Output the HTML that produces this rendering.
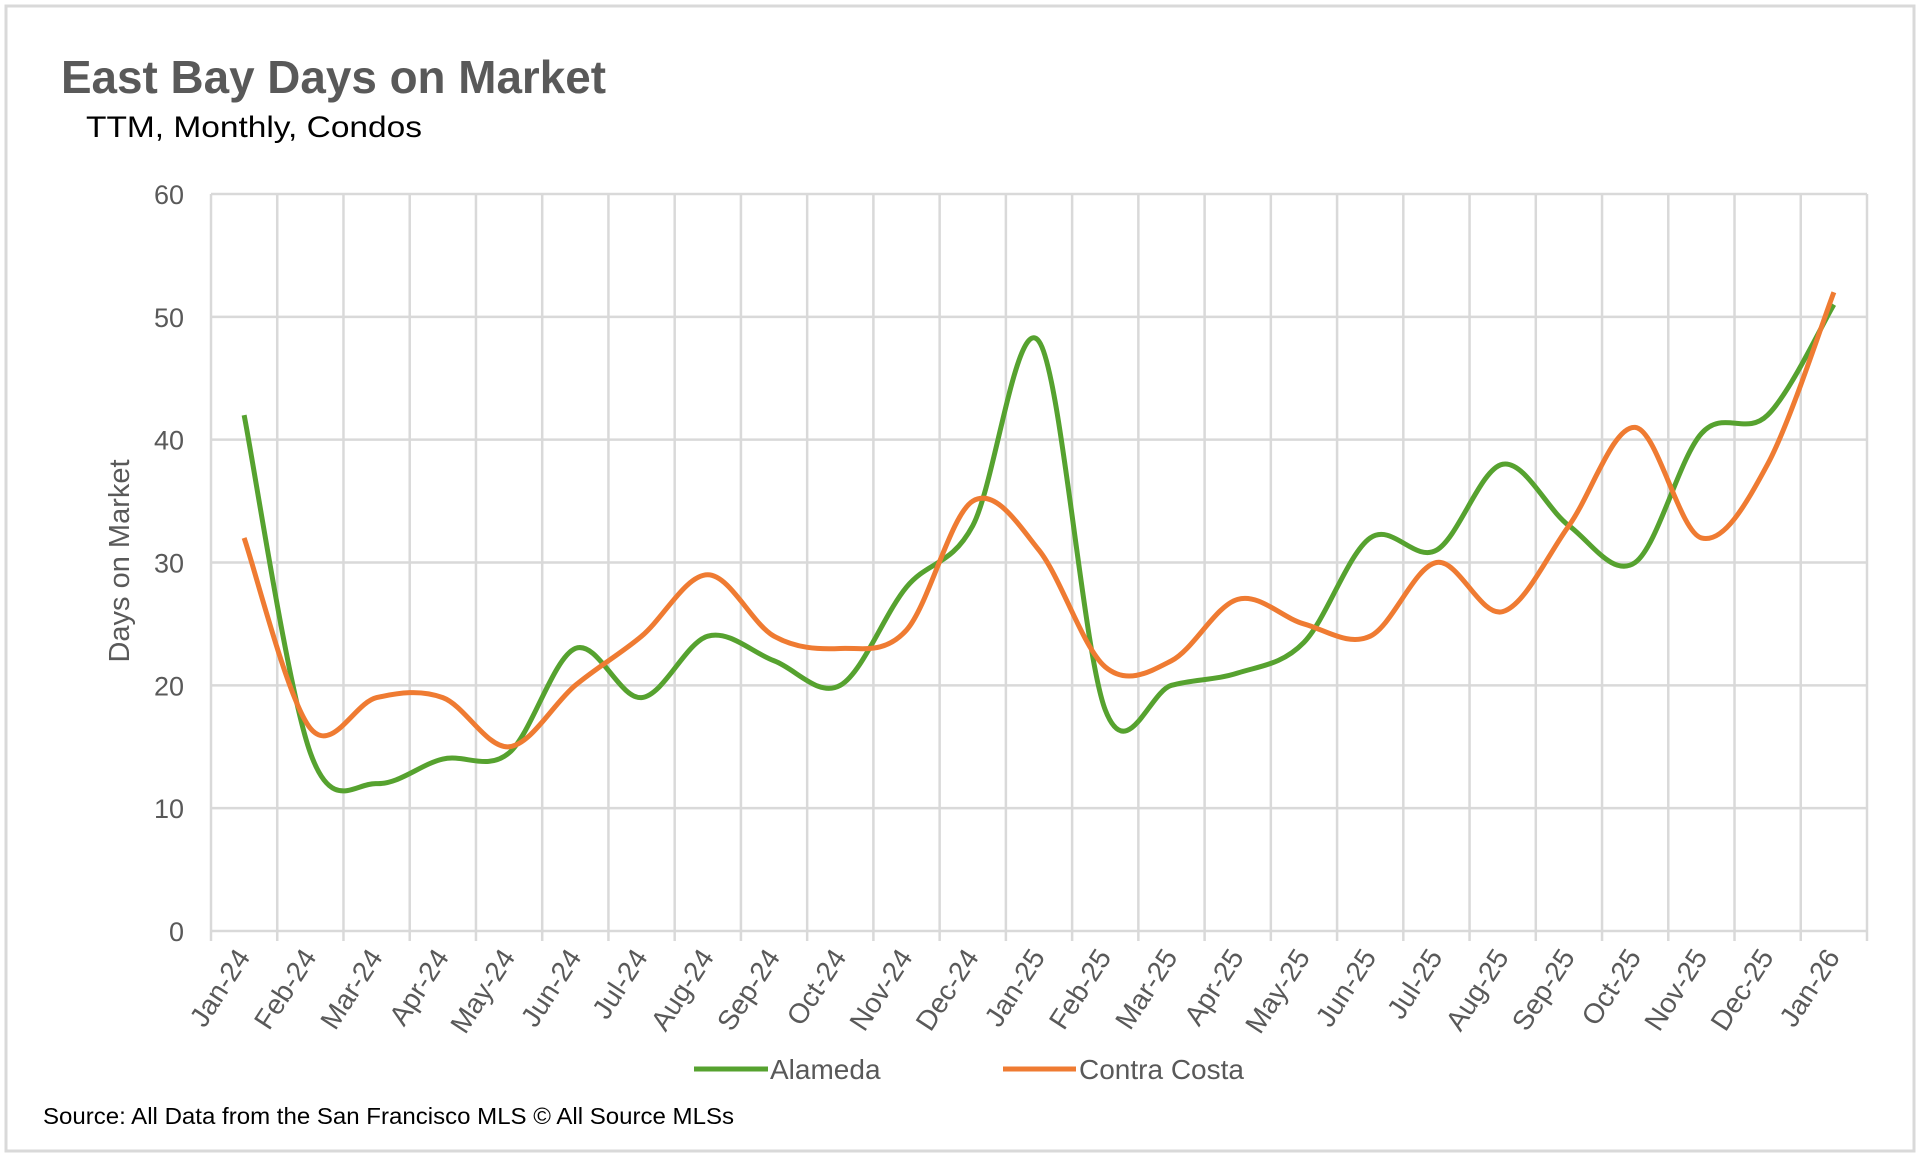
<!DOCTYPE html>
<html><head><meta charset="utf-8"><style>
html,body{margin:0;padding:0;background:#fff;}
svg{display:block;font-family:"Liberation Sans",sans-serif;}
</style></head><body>
<svg id="chart" width="1920" height="1156" viewBox="0 0 1920 1156" xmlns="http://www.w3.org/2000/svg">
<rect x="6" y="6" width="1908" height="1145" fill="#fff" stroke="#d9d9d9" stroke-width="3"/>
<text x="61" y="93" font-size="46" font-weight="bold" fill="#595959" textLength="545" lengthAdjust="spacingAndGlyphs">East Bay Days on Market</text>
<text x="86" y="137" font-size="30" fill="#000" textLength="336" lengthAdjust="spacingAndGlyphs">TTM, Monthly, Condos</text>
<g id="grid"></g>
<g id="ylabels"></g>
<g id="xlabels"></g>
<g id="series"></g>
<text transform="translate(129,561) rotate(-90)" text-anchor="middle" font-size="29" fill="#595959">Days on Market</text>
<g>
<line x1="694" y1="1069" x2="768" y2="1069" stroke="#56a22f" stroke-width="5"/>
<text x="770" y="1079" font-size="28" fill="#595959">Alameda</text>
<line x1="1003" y1="1069" x2="1076" y2="1069" stroke="#ef7b32" stroke-width="5"/>
<text x="1079" y="1079" font-size="28" fill="#595959">Contra Costa</text>
</g>
<text x="43" y="1124" font-size="23" fill="#000" textLength="691" lengthAdjust="spacingAndGlyphs">Source: All Data from the San Francisco MLS © All Source MLSs</text>
</svg>
<script>
const categories = ["Jan-24","Feb-24","Mar-24","Apr-24","May-24","Jun-24","Jul-24","Aug-24","Sep-24","Oct-24","Nov-24","Dec-24","Jan-25","Feb-25","Mar-25","Apr-25","May-25","Jun-25","Jul-25","Aug-25","Sep-25","Oct-25","Nov-25","Dec-25","Jan-26"];
const alameda = [42,14.5,12,14,14.5,23,19,24,22,20,28,33,48,18,20,21,23.5,32,31,38,33,30,40.5,42,51];
const contraCosta = [32,16.5,19,19,15,20,24,29,24,23,24.5,35,31,21.5,22,27,25,24,30,26,33,41,32,38,52];
const yTicks = [0,10,20,30,40,50,60];

const NS = "http://www.w3.org/2000/svg";
const L = 211, R = 1867, T = 194, B = 931, YMAX = 60;
const step = (R - L) / categories.length;
function xPos(i){ return L + step * (i + 0.5); }
function yPos(v){ return B - (v / YMAX) * (B - T); }
function mk(tag, attrs, parent){ const e = document.createElementNS(NS, tag); for (const k in attrs) e.setAttribute(k, attrs[k]); parent.appendChild(e); return e; }

const grid = document.getElementById('grid');
yTicks.forEach(v => {
  const ln = mk('line', {x1:L, x2:R, y1:yPos(v), y2:yPos(v), stroke:'#d9d9d9', 'stroke-width':2.5}, grid);
  
  
  const t = mk('text', {x:184, y:yPos(v)+10, 'text-anchor':'end', 'font-size':27, fill:'#595959'}, document.getElementById('ylabels'));
  t.textContent = v;
  
  
});
for (let i = 0; i <= categories.length; i++) {
  const x = L + step * i;
  const ln = mk('line', {x1:x, x2:x, y1:T, y2:B+10, stroke:'#d9d9d9', 'stroke-width':2.5}, grid);
  
  
}
categories.forEach((c, i) => {
  const x = xPos(i) + 7, y = 957;
  const t = mk('text', {x:x, y:y, 'text-anchor':'end', 'font-size':28, fill:'#595959', transform:`rotate(-57 ${x} ${y})`}, document.getElementById('xlabels'));
  t.textContent = c;
  
  
});

function smoothPath(vals){
  const p = vals.map((v, i) => [xPos(i), yPos(v)]);
  let d = `M${p[0][0]},${p[0][1]}`;
  for (let i = 0; i < p.length - 1; i++) {
    const p0 = p[Math.max(0, i-1)], p1 = p[i], p2 = p[i+1], p3 = p[Math.min(p.length-1, i+2)];
    const c1 = [p1[0] + (p2[0]-p0[0])/6, p1[1] + (p2[1]-p0[1])/6];
    const c2 = [p2[0] - (p3[0]-p1[0])/6, p2[1] - (p3[1]-p1[1])/6];
    d += ` C${c1[0]},${c1[1]} ${c2[0]},${c2[1]} ${p2[0]},${p2[1]}`;
  }
  return d;
}
const series = document.getElementById('series');
const a = mk('path', {d:smoothPath(alameda), fill:'none', stroke:'#56a22f', 'stroke-width':5, 'stroke-linejoin':'round'}, series);


const c = mk('path', {d:smoothPath(contraCosta), fill:'none', stroke:'#ef7b32', 'stroke-width':5, 'stroke-linejoin':'round'}, series);


</script>
</body></html>
